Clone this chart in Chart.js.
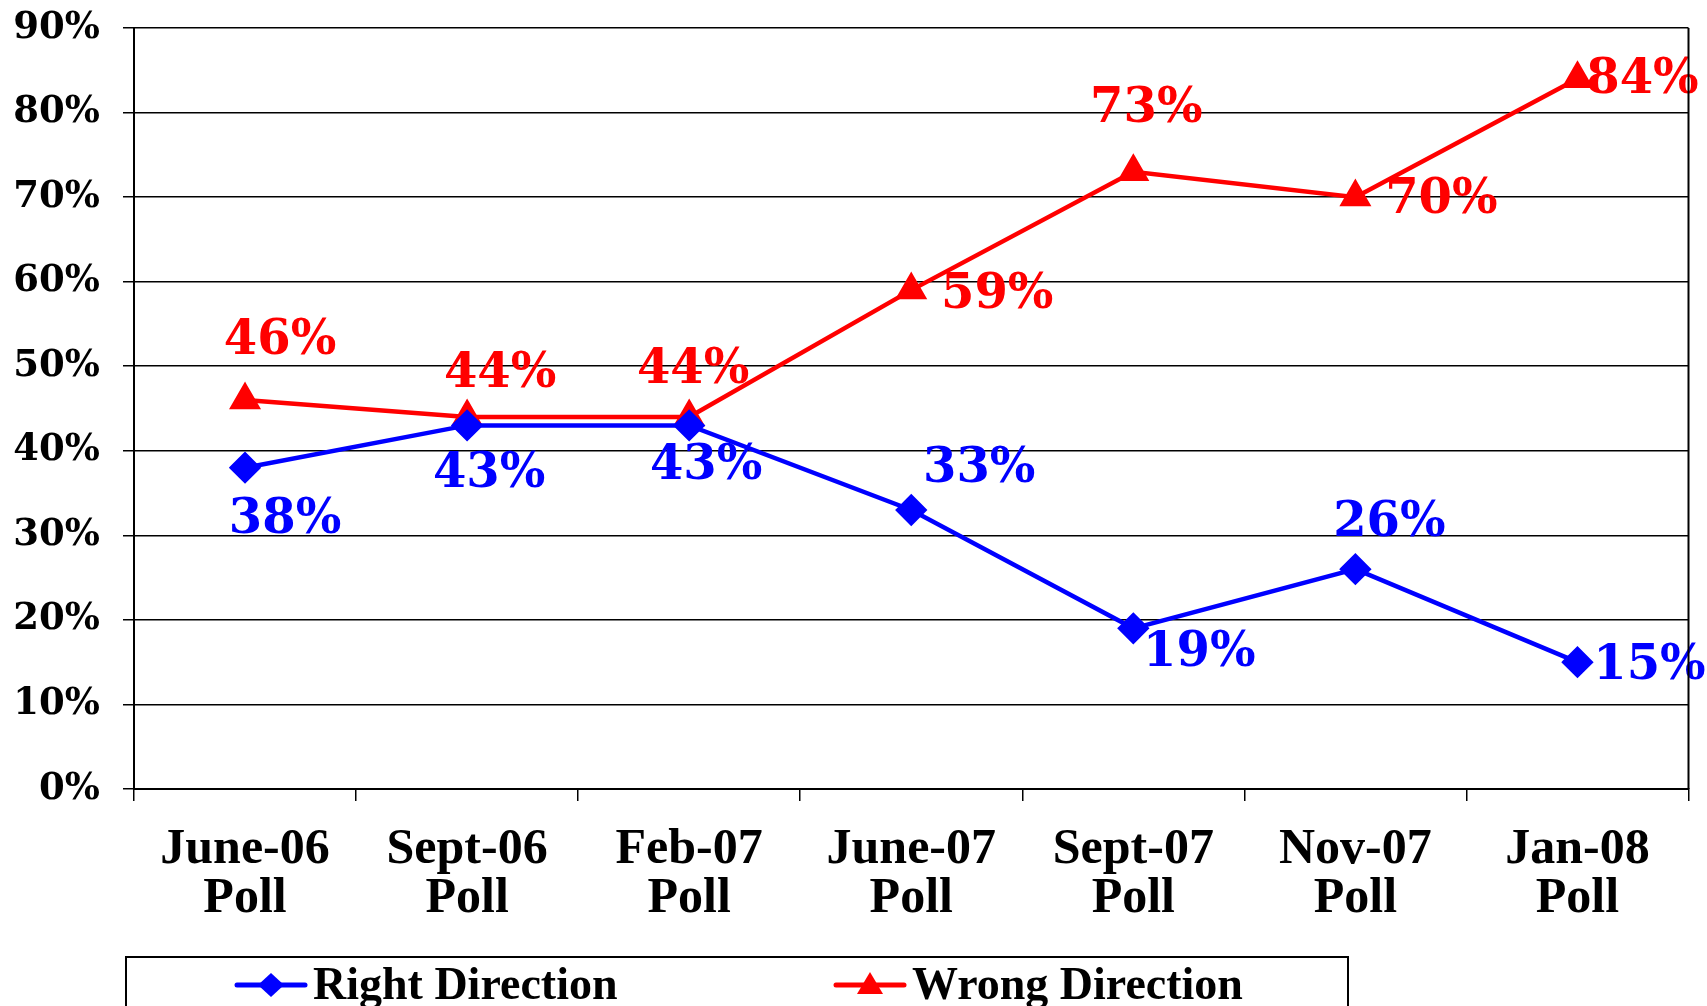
<!DOCTYPE html>
<html><head><meta charset="utf-8">
<script src="https://cdn.jsdelivr.net/npm/chart.js@4"></script>
<style>html,body{margin:0;padding:0;background:#fff}canvas{display:block}</style>
</head><body>
<canvas id="c" width="1707" height="1006"></canvas>
<script>
const categories = [["June-06","Poll"],["Sept-06","Poll"],["Feb-07","Poll"],["June-07","Poll"],["Sept-07","Poll"],["Nov-07","Poll"],["Jan-08","Poll"]];
const rightDirection = [38,43,43,33,19,26,15];
const wrongDirection = [46,44,44,59,73,70,84];
const seriesNames = ["Right Direction","Wrong Direction"];
const yMin = 0, yMax = 90, yStep = 10;

// label placement offsets (px) relative to each point
const labelOffsets = [
  [[40,53],[22,49],[17,41],[68,-40],[66,25],[34,-46],[72,4]],
  [[35,-59],[33,-42],[4,-46],[86,5],[13,-62],[86,3],[65,2]]
];

const dataLabels = {
  id:'dataLabels',
  afterDatasetsDraw(chart){
    const ctx = chart.ctx;
    ctx.save();
    ctx.font = 'bold 48px "DejaVu Serif"';
    ctx.textAlign = 'center';
    ctx.textBaseline = 'middle';
    chart.data.datasets.forEach((ds,di)=>{
      const meta = chart.getDatasetMeta(di);
      ctx.fillStyle = ds.borderColor;
      meta.data.forEach((pt,i)=>{
        const o = labelOffsets[di][i];
        ctx.fillText(ds.data[i] + '%', pt.x + o[0], pt.y + o[1]);
      });
    });
    ctx.restore();
  }
};

const frameAndLegend = {
  id:'frameAndLegend',
  afterDraw(chart){
    const ctx = chart.ctx, a = chart.chartArea;
    ctx.save();
    ctx.strokeStyle = '#000';
    ctx.lineWidth = 2;
    ctx.beginPath();
    ctx.moveTo(a.right, a.top); ctx.lineTo(a.right, a.bottom);
    ctx.stroke();
    // legend box
    ctx.lineWidth = 2;
    ctx.strokeRect(126, 957, 1222, 120);
    const items = [[237, 313],[836, 912]];
    chart.data.datasets.forEach((ds,di)=>{
      const [sx, tx] = items[di];
      const cy = 985;
      ctx.strokeStyle = ds.borderColor;
      ctx.lineWidth = 5;
      ctx.lineCap = 'round';
      ctx.beginPath(); ctx.moveTo(sx, cy); ctx.lineTo(sx+68, cy); ctx.stroke();
      ctx.fillStyle = ds.borderColor;
      const mx = sx + 34;
      ctx.beginPath();
      if (ds.pointStyle === 'rectRot') {
        ctx.moveTo(mx, cy-12); ctx.lineTo(mx+13, cy); ctx.lineTo(mx, cy+12); ctx.lineTo(mx-13, cy);
      } else {
        ctx.moveTo(mx, cy-13); ctx.lineTo(mx+13, cy+9); ctx.lineTo(mx-13, cy+9);
      }
      ctx.closePath(); ctx.fill();
      ctx.fillStyle = '#000';
      ctx.font = 'bold 46px "Liberation Serif"';
      ctx.textAlign = 'left';
      ctx.textBaseline = 'middle';
      ctx.fillText(ds.label, tx, cy + 2);
    });
    ctx.restore();
  }
};

new Chart(document.getElementById('c'), {
  type:'line',
  data:{
    labels: categories,
    datasets:[
      {label: seriesNames[0], data: rightDirection, borderColor:'#0000FF', backgroundColor:'#0000FF',
       borderWidth:4.5, pointStyle:'rectRot', pointRadius:13, pointHoverRadius:13, tension:0, clip:false},
      {label: seriesNames[1], data: wrongDirection, borderColor:'#FF0000', backgroundColor:'#FF0000',
       borderWidth:4.5, pointStyle:'triangle', pointRadius:14, pointHoverRadius:14, tension:0, clip:false}
    ]
  },
  options:{
    responsive:false,
    animation:false,
    devicePixelRatio:1,
    layout:{padding:{top:28, right:17, left:0, bottom:0}},
    plugins:{legend:{display:false}, tooltip:{enabled:false}},
    scales:{
      x:{
        type:'category', offset:true,
        grid:{drawOnChartArea:false, offset:true, tickLength:12, color:'#000', lineWidth:1.5},
        border:{color:'#000', width:2},
        ticks:{color:'#000', font:{family:'"Liberation Serif"', size:50, weight:'bold', lineHeight:0.98}, padding:25, maxRotation:0, autoSkip:false},
        afterFit(s){ s.height = 217; s.paddingLeft = 0; s.paddingRight = 0; }
      },
      y:{
        min:yMin, max:yMax,
        grid:{color:'#000', lineWidth:1.5, tickLength:11, tickColor:'#000'},
        border:{color:'#000', width:2},
        ticks:{stepSize:yStep, color:'#000', font:{family:'"DejaVu Serif"', size:37, weight:'bold'}, padding:23,
          callback:v=>v+'%'},
        afterFit(s){ s.width = 134; s.paddingTop = 0; s.paddingBottom = 0; }
      }
    }
  },
  plugins:[dataLabels, frameAndLegend]
});
</script>
</body></html>
